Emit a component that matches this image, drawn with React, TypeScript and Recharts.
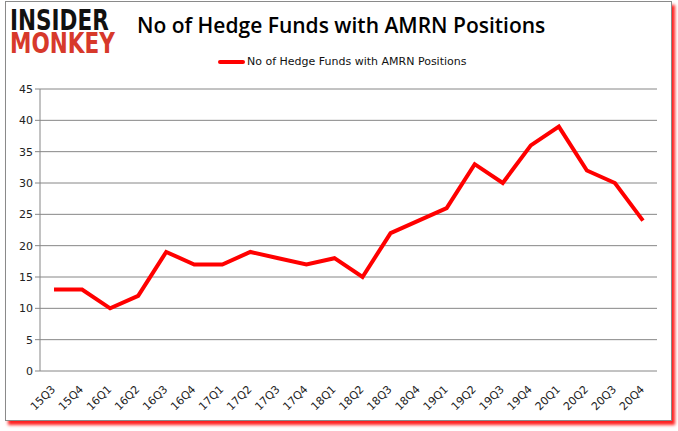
import React from "react";
import { LineChart, Line, XAxis, YAxis, CartesianGrid } from "recharts";

const quarters = [
  "15Q3", "15Q4", "16Q1", "16Q2", "16Q3", "16Q4", "17Q1", "17Q2", "17Q3", "17Q4", "18Q1",
  "18Q2", "18Q3", "18Q4", "19Q1", "19Q2", "19Q3", "19Q4", "20Q1", "20Q2", "20Q3", "20Q4",
];
const hedgeFunds = [13, 13, 10, 12, 19, 17, 17, 19, 18, 17, 18, 15, 22, 24, 26, 33, 30, 36, 39, 32, 30, 24];
const yTicks = [0, 5, 10, 15, 20, 25, 30, 35, 40, 45];
const boundaryTicks = quarters.map((_, i) => i).concat([quarters.length]);
const centerTicks = quarters.map((_, i) => i + 0.5);

const seriesName = "No of Hedge Funds with AMRN Positions";
const title = "No of Hedge Funds with AMRN Positions";

const data = quarters.map((q, i) => ({ q, idx: i + 0.5, v: hedgeFunds[i] }));

const EmptyTick = () => <g />;

const XTick = (props: any) => {
  const { x, y, payload } = props;
  const label = quarters[Math.round(payload.value - 0.5)];
  return (
    <g transform={`translate(${x + 2},${y + 11})`}>
      <text
        x={0}
        y={0}
        textAnchor="end"
        transform="rotate(-45)"
        fontFamily="DejaVu Sans, Verdana, sans-serif"
        fontSize={11}
        fill="#222"
      >
        {label}
      </text>
    </g>
  );
};

export default function App() {
  return (
    <div
      style={{
        position: "fixed",
        left: 0,
        top: 0,
        width: 678,
        height: 431,
        background: "#fff",
        overflow: "hidden",
      }}
    >
      <div
        style={{
          position: "absolute",
          left: 5,
          top: 1,
          width: 665,
          height: 418,
          border: "1px solid #8a8a8a",
          boxShadow: "3px 4px 3px #ff2020",
          background: "#fff",
        }}
      />
      <div style={{ position: "absolute", left: 0, top: 0 }}>
        <LineChart
          width={678}
          height={431}
          data={data}
          margin={{ top: 89, right: 21, left: 0, bottom: 0 }}
        >
          <CartesianGrid horizontal vertical={false} stroke="#868686" strokeWidth={1} />
          <XAxis
            xAxisId="marks"
            type="number"
            dataKey="idx"
            domain={[0, quarters.length]}
            ticks={boundaryTicks}
            interval={0}
            allowDataOverflow
            height={0}
            tick={<EmptyTick />}
            tickLine={{ stroke: "#868686" }}
            tickSize={5}
            axisLine={{ stroke: "#868686" }}
          />
          <XAxis
            xAxisId="lab"
            type="number"
            dataKey="idx"
            domain={[0, quarters.length]}
            ticks={centerTicks}
            interval={0}
            allowDataOverflow
            height={60}
            tickLine={false}
            axisLine={false}
            tick={<XTick />}
          />
          <YAxis
            domain={[0, 45]}
            ticks={yTicks}
            width={40}
            interval={0}
            tickLine={{ stroke: "#868686" }}
            tickSize={5}
            axisLine={{ stroke: "#868686" }}
            tick={{ fontFamily: "DejaVu Sans, Verdana, sans-serif", fontSize: 11, fill: "#222" }}
          />
          <Line
            xAxisId="lab"
            type="linear"
            dataKey="v"
            name={seriesName}
            stroke="#ff0000"
            strokeWidth={4}
            dot={false}
            activeDot={false}
            isAnimationActive={false}
          />
        </LineChart>
      </div>
      <div
        style={{
          position: "absolute",
          left: 10,
          top: 9,
          fontFamily: "DejaVu Sans, sans-serif",
          fontWeight: 900,
          lineHeight: "23px",
          fontSize: 28,
          transform: "scaleX(0.77)",
          transformOrigin: "0 0",
        }}
      >
        <div style={{ color: "#111" }}>INSIDER</div>
        <div style={{ color: "#d7392b" }}>MONKEY</div>
      </div>
      <div
        style={{
          position: "absolute",
          left: 137,
          top: 11,
          fontFamily: "'Open Sans', sans-serif",
          fontWeight: 600,
          fontSize: 21,
          color: "#000",
          whiteSpace: "nowrap",
        }}
      >
        {title}
      </div>
      <div
        style={{
          position: "absolute",
          left: 218,
          top: 55,
          display: "flex",
          alignItems: "center",
          fontFamily: "DejaVu Sans, Verdana, sans-serif",
          fontSize: 11,
          color: "#111",
          whiteSpace: "nowrap",
        }}
      >
        <span
          style={{ display: "inline-block", width: 27, height: 4, background: "#ff0000", borderRadius: 2, marginRight: 2 }}
        />
        {seriesName}
      </div>
    </div>
  );
}
